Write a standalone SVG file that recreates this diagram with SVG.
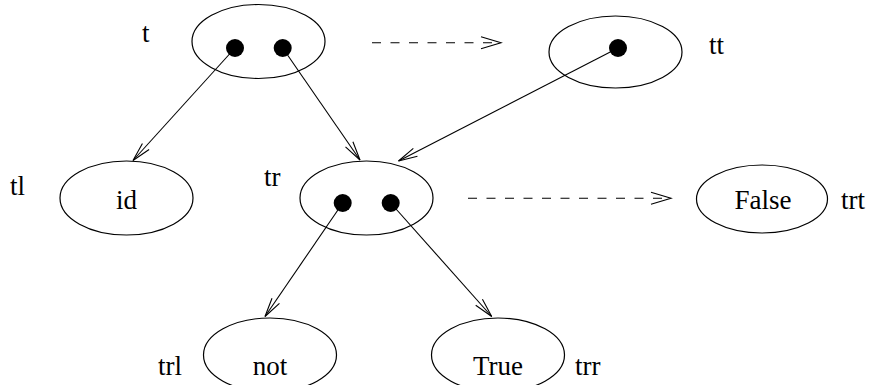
<svg xmlns="http://www.w3.org/2000/svg" width="881" height="385" viewBox="0 0 881 385">
<defs>
<style>
.node{fill:none;stroke:#000;stroke-width:1.2}
.dot{fill:#000}
.edge{fill:none;stroke:#000;stroke-width:1.1}
.dash{stroke-dasharray:9 9.5}
.c{text-anchor:middle}
</style>
<marker id="ah" markerWidth="22" markerHeight="12" refX="20" refY="6" orient="auto" markerUnits="userSpaceOnUse">
<path d="M1,1.5 L20,6 L1,10.5" fill="none" stroke="#000" stroke-width="1.1"/>
</marker>
<marker id="dh" markerWidth="24" markerHeight="14" refX="21" refY="7" orient="auto" markerUnits="userSpaceOnUse">
<path d="M1,1 L21,7 L1,13" fill="none" stroke="#000" stroke-width="1.1"/>
</marker>
</defs>
<rect width="881" height="385" fill="#fff"/>
<g id="edges">
<line class="edge" x1="235" y1="48" x2="133" y2="160.5" marker-end="url(#ah)"/>
<line class="edge" x1="282.7" y1="48" x2="360" y2="160" marker-end="url(#ah)"/>
<line class="edge" x1="618" y1="48" x2="398.5" y2="161" marker-end="url(#ah)"/>
<line class="edge" x1="342.7" y1="203" x2="265" y2="316.5" marker-end="url(#ah)"/>
<line class="edge" x1="390.7" y1="203" x2="491.7" y2="316.5" marker-end="url(#ah)"/>
<line class="edge dash" x1="372" y1="42.7" x2="501" y2="42.7" marker-end="url(#dh)"/>
<line class="edge dash" x1="468" y1="198.3" x2="671" y2="198.3" marker-end="url(#dh)"/>
</g>
<g font-family="Liberation Serif, Times New Roman, serif" font-size="27" fill="#000">
<g id="t">
<ellipse class="node" cx="258.5" cy="41.5" rx="66.5" ry="37"/>
<circle class="dot" cx="235" cy="48" r="9"/>
<circle class="dot" cx="282.7" cy="48" r="9"/>
<text x="142" y="42">t</text>
</g>
<g id="tt">
<ellipse class="node" cx="615.5" cy="52" rx="66.5" ry="36"/>
<circle class="dot" cx="618" cy="48" r="9"/>
<text x="709" y="54">tt</text>
</g>
<g id="tl">
<ellipse class="node" cx="126.5" cy="198" rx="66.5" ry="37"/>
<text class="c" x="126.5" y="209">id</text>
<text x="10" y="195">tl</text>
</g>
<g id="tr">
<ellipse class="node" cx="366.5" cy="198" rx="66.5" ry="37"/>
<circle class="dot" cx="342.7" cy="203" r="9"/>
<circle class="dot" cx="390.7" cy="203" r="9"/>
<text x="264" y="186">tr</text>
</g>
<g id="trt">
<ellipse class="node" cx="762" cy="199" rx="65.5" ry="34"/>
<text class="c" x="763" y="209">False</text>
<text x="841" y="209">trt</text>
</g>
<g id="trl">
<ellipse class="node" cx="270" cy="355" rx="66.5" ry="37"/>
<text class="c" x="270" y="375">not</text>
<text x="158" y="375">trl</text>
</g>
<g id="trr">
<ellipse class="node" cx="498" cy="355" rx="66.5" ry="37"/>
<text class="c" x="498" y="375">True</text>
<text x="575" y="375">trr</text>
</g>
</g>
</svg>
